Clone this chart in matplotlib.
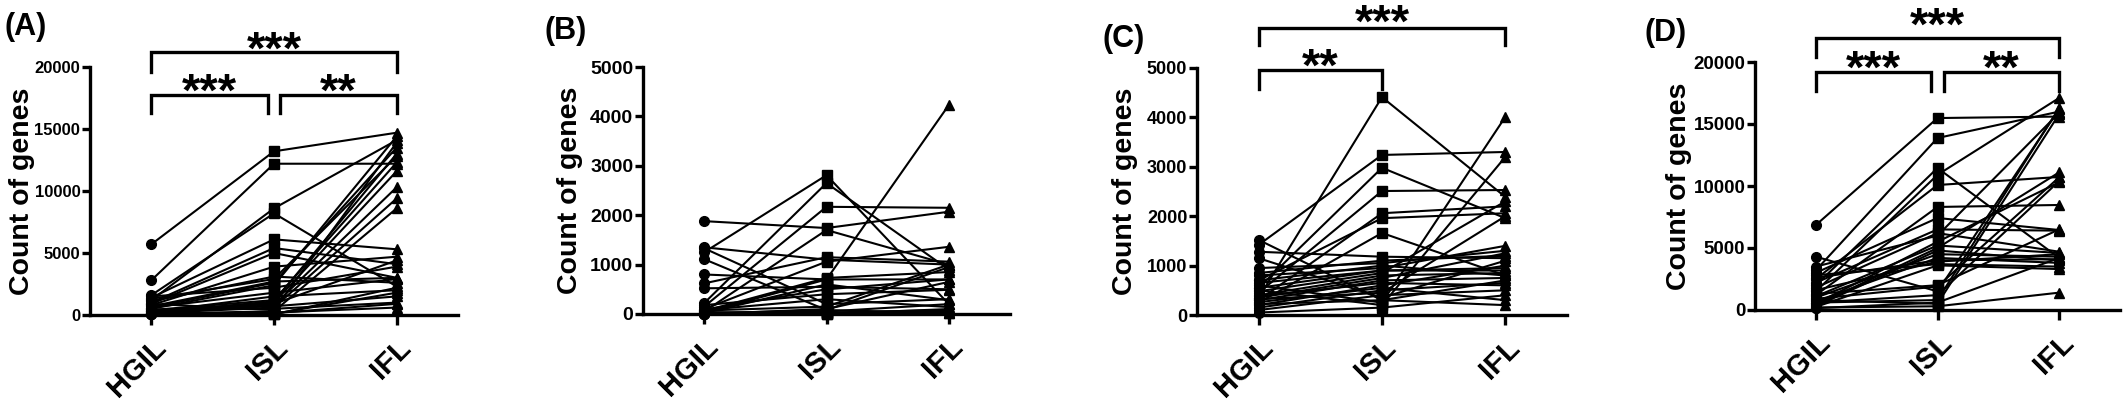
import matplotlib
matplotlib.use("Agg")
import matplotlib.pyplot as plt

plt.rcParams['font.family'] = ['Liberation Sans', 'DejaVu Sans']
plt.rcParams['font.weight'] = 'bold'

grupos = ['HGIL', 'ISL', 'IFL']

# (A)
A_hgil = [5700, 2800, 1600, 1200, 1400, 1000, 900, 800, 1300, 600, 500, 400, 300, 200, 150,
          100, 700, 1100, 250, 350, 450, 50, 80, 600, 1500, 900, 300, 200, 120, 60]
A_isl = [13200, 12200, 8200, 8600, 6100, 5400, 5000, 3900, 2900, 2600, 2400, 1200, 1000, 800, 600,
         300, 2700, 3100, 1500, 700, 500, 200, 100, 1800, 2200, 400, 900, 1100, 150, 50]
A_ifl = [14700, 12200, 2300, 14100, 5300, 4100, 3000, 4700, 12800, 13500, 14400, 12300, 11600, 10300, 9400,
         8600, 3000, 2600, 2000, 1500, 1000, 600, 1800, 2900, 3900, 13900, 4400, 13000, 900, 2200]

# (B)
B_hgil = [1880, 1250, 1350, 1330, 1110, 800, 620, 520, 220, 150, 100, 60, 30, 0, 20, 50, 80,
          10, 40, 0, 180, 70, 30, 10, 0, 90]
B_isl = [1740, 2810, 1100, 200, 80, 700, 1150, 550, 2650, 2170, 1060, 730, 700, 100, 600, 1700, 300,
         50, 0, 20, 400, 150, 30, 80, 10, 500]
B_ifl = [2070, 200, 1000, 300, 950, 700, 1060, 500, 900, 2150, 1360, 850, 4230, 650, 280, 1000, 140,
         200, 100, 50, 490, 1000, 80, 20, 30, 700]

# (C)
C_hgil = [350, 1420, 550, 450, 300, 700, 250, 1520, 600, 500, 1280, 950, 800, 650, 400, 350, 300,
          200, 150, 100, 50, 850, 480, 380, 260, 1150, 700, 550, 320, 220]
C_isl = [4410, 3240, 2980, 2510, 2060, 1960, 1660, 300, 250, 200, 1180, 1050, 950, 900, 800, 750, 700,
         600, 500, 400, 150, 1100, 850, 650, 550, 350, 1000, 900, 450, 300]
C_ifl = [2390, 3300, 1960, 2530, 2200, 2060, 800, 700, 4010, 3200, 1150, 1300, 1400, 900, 850, 1250, 750,
         1000, 650, 500, 400, 1200, 2300, 600, 300, 1100, 800, 950, 2000, 200]

# (D)
D_hgil = [6850, 3200, 2000, 1500, 2500, 1200, 3000, 4300, 800, 600, 2200, 1800, 500, 400, 300, 1000,
          2800, 1600, 700, 200, 3500, 900, 1300, 250, 150, 2600, 1100, 600]
D_isl = [15480, 13870, 11450, 10900, 10080, 8310, 7420, 1500, 500, 800, 6500, 6200, 5500, 5000, 4800, 4500,
         3700, 3900, 4200, 300, 6000, 1900, 2000, 3600, 600, 4000, 5200, 1200]
D_ifl = [15600, 16000, 4200, 17100, 10730, 8470, 6450, 16200, 15800, 16300, 6400, 4700, 10300, 11100, 4000, 4300,
         3500, 4500, 3800, 1400, 15900, 10700, 6500, 3300, 4200, 4100, 4600, 10400]

A_ticks = [0, 5000, 10000, 15000, 20000]
B_ticks = [0, 1000, 2000, 3000, 4000, 5000]

W, H = 2128, 399
fig = plt.figure(figsize=(W / 100, H / 100), dpi=100)


def painel(px, hgil, isl, ifl, yticks, tsize, xlab):
    # px = left, right, bottom, top in pixels
    l, r, b, t = px
    ax = fig.add_axes([l / W, (H - b) / H, (r - l) / W, (b - t) / H])
    for h, i, f in zip(hgil, isl, ifl):
        ax.plot([0, 1, 2], [h, i, f], color='black', lw=1.5, clip_on=False, zorder=2)
    n = len(hgil)
    ax.plot([0] * n, hgil, 'o', color='black', ms=7, clip_on=False, zorder=3)
    ax.plot([1] * n, isl, 's', color='black', ms=6.5, clip_on=False, zorder=3)
    ax.plot([2] * n, ifl, '^', color='black', ms=7.5, clip_on=False, zorder=3)
    ax.set_xlim(-0.5, 2.5)
    ax.set_ylim(0, yticks[-1])
    ax.set_xticks([0, 1, 2])
    ax.set_xticklabels(grupos, rotation=45, ha='right', va='top', rotation_mode='anchor',
                       fontsize=21, fontweight='bold')
    ax.set_yticks(yticks)
    ax.set_yticklabels([str(v) for v in yticks], fontsize=tsize, fontweight='bold')
    ax.spines['top'].set_visible(False)
    ax.spines['right'].set_visible(False)
    ax.spines['left'].set_linewidth(2.4)
    ax.spines['bottom'].set_linewidth(2.4)
    ax.tick_params(axis='x', direction='out', length=7, width=2.4, pad=6)
    ax.tick_params(axis='y', direction='out', length=6, width=2.4, pad=1)
    ax.text(xlab, 0.5, 'Count of genes', rotation=90, ha='center', va='center',
            fontsize=20.5, fontweight='bold', transform=ax.transAxes)
    return ax


def colchete(ax, x1, x2, y, yperna, estrelas, off):
    ax.plot([x1, x1, x2, x2], [yperna, y, y, yperna], color='black', lw=2.4,
            clip_on=False, solid_joinstyle='miter')
    ax.annotate(estrelas, xy=((x1 + x2) / 2, y), xytext=(0, off), textcoords='offset points',
                ha='center', va='baseline', fontsize=34, fontweight='bold', annotation_clip=False)


axA = painel((90, 458, 315, 67), A_hgil, A_isl, A_ifl, A_ticks, 12, -0.185)
colchete(axA, 0, 2, 21200, 19600, '***', -8)
colchete(axA, 0, 0.95, 17740, 16290, '***', -8)
colchete(axA, 1.05, 2, 17740, 16290, '**', -8)

axB = painel((643, 1010, 314, 67), B_hgil, B_isl, B_ifl, B_ticks, 14, -0.2)

axC = painel((1197, 1567, 315, 68), C_hgil, C_isl, C_ifl, B_ticks, 13, -0.195)
colchete(axC, 0, 2, 5810, 5465, '***', -6)
colchete(axC, 0, 1, 4960, 4575, '**', -8)

axD = painel((1755, 2120, 310, 62), D_hgil, D_isl, D_ifl, A_ticks, 13.5, -0.208)
colchete(axD, 0, 2, 21935, 20400, '***', -1)
colchete(axD, 0, 0.95, 19190, 17660, '***', -8)
colchete(axD, 1.05, 2, 19190, 17660, '**', -8)

# panel letters
for letra, x, y in [('(A)', 5, 35), ('(B)', 545, 39), ('(C)', 1103, 47), ('(D)', 1645, 41)]:
    fig.text(x / W, (H - y) / H, letra, fontsize=22, fontweight='bold', ha='left', va='baseline')

fig.savefig('out.png', dpi=100)
